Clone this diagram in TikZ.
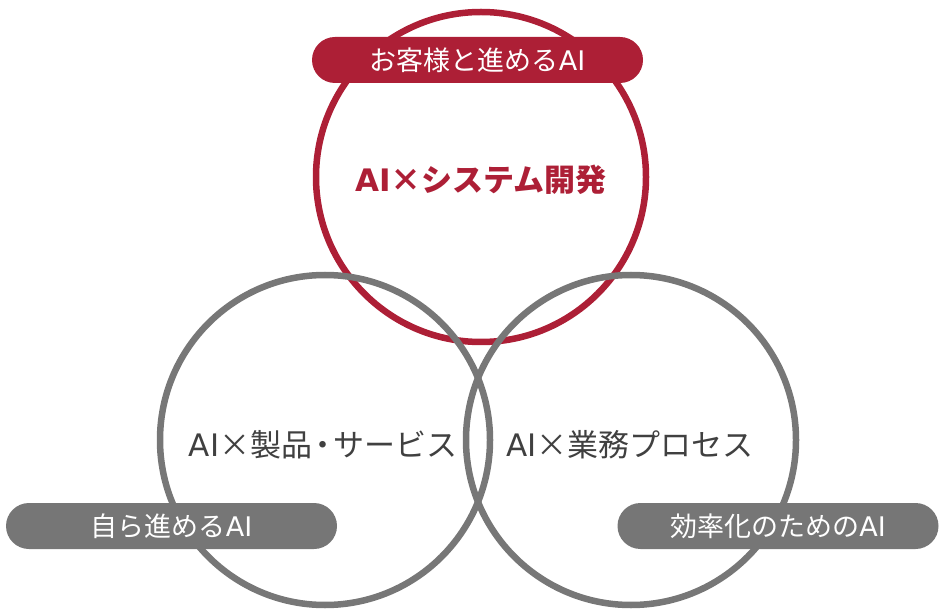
\documentclass[tikz,border=0pt]{standalone}
\usepackage{fontspec}
\setmainfont{Noto Sans CJK JP}
\newfontfamily\latinfont{DejaVu Sans}
\newcommand{\ai}{{\latinfont AI}}
\definecolor{brandred}{HTML}{AD1F36}
\definecolor{ringgray}{HTML}{777777}
\definecolor{pillgray}{HTML}{767676}
\definecolor{txtgray}{HTML}{404040}
\begin{document}
\begin{tikzpicture}[x=1pt,y=-1pt,
  ring/.style={circle,draw,line width=6.5pt,minimum size=330pt,inner sep=0pt},
  pill/.style={rounded corners=23pt,minimum width=331pt,minimum height=46pt,inner sep=0pt,text=white,font=\fontsize{27}{27}\selectfont},
  ringtext/.style={font=\fontsize{31}{31}\selectfont,inner sep=0pt}
  ]
\useasboundingbox (0,0) rectangle (942,609);
\node[ring,draw=brandred] (sys) at (481,177) {};
\node[ring,draw=ringgray] (prod) at (325,440) {};
\node[ring,draw=ringgray] (proc) at (631,440) {};
\node[ringtext,text=brandred,font=\fontsize{31}{31}\selectfont\bfseries] (tsys) at (481,180) {{\latinfont\bfseries AI}×システム開発};
\node[ringtext,text=txtgray] (tprod) at (323,445) {\ai×製品\kern-5pt・\kern-5pt サービス};
\node[ringtext,text=txtgray] (tproc) at (630,445) {\ai×業務プロセス};
\node[pill,fill=brandred] (p1) at (477.5,60) {お客様と進める\ai};
\node[pill,fill=pillgray] (p2) at (171.5,526) {自ら進める\ai};
\node[pill,fill=pillgray,minimum width=321pt] (p3) at (778,526) {効率化のための\ai};
\end{tikzpicture}
\end{document}
